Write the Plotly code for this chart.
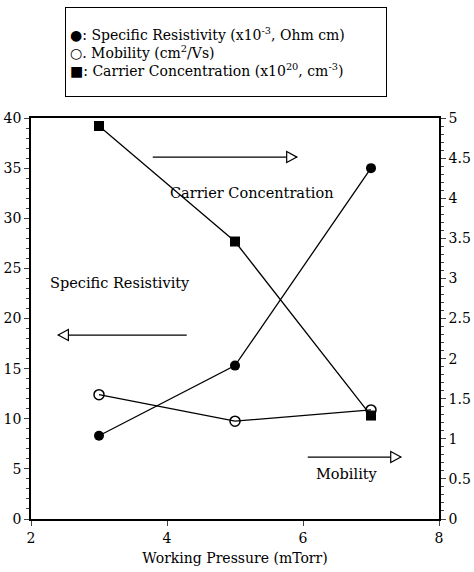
import plotly.graph_objects as go

pressure = [3, 5, 7]
resistivity = [8.3, 15.3, 35.0]          # x10^-3 Ohm cm, left axis
mobility = [1.55, 1.22, 1.36]            # cm^2/Vs, right axis
carrier = [4.9, 3.46, 1.29]              # x10^20 cm^-3, right axis

x_ticks = [2, 4, 6, 8]
left_ticks = [0, 5, 10, 15, 20, 25, 30, 35, 40]
right_ticks = [0, 0.5, 1, 1.5, 2, 2.5, 3, 3.5, 4, 4.5, 5]
right_labels = ["0", "0.5", "1", "1.5", "2", "2.5", "3", "3.5", "4", "4.5", "5"]

FONT = "DejaVu Serif"
fig = go.Figure()
fig.add_trace(go.Scatter(x=pressure, y=resistivity, mode="lines+markers",
                         line=dict(color="black", width=1.3),
                         marker=dict(symbol="circle", size=10, color="black"),
                         showlegend=False))
fig.add_trace(go.Scatter(x=pressure, y=mobility, mode="lines+markers", yaxis="y2",
                         line=dict(color="black", width=1.3),
                         marker=dict(symbol="circle-open", size=10, color="black", line=dict(width=1.5)),
                         showlegend=False))
fig.add_trace(go.Scatter(x=pressure, y=carrier, mode="lines+markers", yaxis="y2",
                         line=dict(color="black", width=1.3),
                         marker=dict(symbol="square", size=10, color="black"),
                         showlegend=False))

shapes = []
def arrow(x0, x1, y):
    shapes.append(dict(type="line", xref="x", yref="y", x0=x0, x1=x1, y0=y, y1=y,
                       line=dict(color="black", width=1.2)))
    d = 0.15 if x1 > x0 else -0.15
    path = f"M {x1} {y} L {x1-d} {y+0.55} L {x1-d} {y-0.55} Z"
    shapes.append(dict(type="path", xref="x", yref="y", path=path,
                       fillcolor="white", line=dict(color="black", width=1.2)))

arrow(3.79, 5.91, 36.1)
arrow(4.29, 2.40, 18.35)
arrow(6.07, 7.44, 6.18)

annotations = [
    dict(x=5.25, y=32.5, xref="x", yref="y", text="Carrier Concentration", showarrow=False,
         font=dict(family=FONT, size=14.5, color="black")),
    dict(x=3.31, y=23.5, xref="x", yref="y", text="Specific Resistivity", showarrow=False,
         font=dict(family=FONT, size=14.5, color="black")),
    dict(x=6.65, y=4.5, xref="x", yref="y", text="Mobility", showarrow=False,
         font=dict(family=FONT, size=14.5, color="black")),
    dict(x=0.0833, y=1.2768, xref="paper", yref="paper", xanchor="left", yanchor="top",
         text="●: Specific Resistivity (x10<sup>-3</sup>, Ohm cm)<br>"
              "○. Mobility (cm<sup>2</sup>/Vs)<br>"
              "■: Carrier Concentration (x10<sup>20</sup>, cm<sup>-3</sup>)",
         align="left", showarrow=False, bordercolor="black", borderwidth=1,
         width=312, height=80, borderpad=4, bgcolor="white",
         font=dict(family=FONT, size=14, color="black")),
]

fig.update_layout(
    width=474, height=572,
    margin=dict(l=31, r=35, t=118, b=53, autoexpand=False),
    paper_bgcolor="white", plot_bgcolor="white",
    font=dict(family=FONT, size=14, color="black"),
    shapes=shapes, annotations=annotations,
    xaxis=dict(range=[2, 8], tickvals=x_ticks, ticks="outside", ticklen=5,
               showline=True, mirror=True, linecolor="black", linewidth=1.5,
               showgrid=False, zeroline=False, tickfont=dict(size=14), automargin=False,
               title=dict(text="Working Pressure (mTorr)", standoff=9,
                          font=dict(family=FONT, size=14))),
    yaxis=dict(range=[0, 40], tickvals=left_ticks, ticks="outside", ticklen=5,
               showline=True, linecolor="black", linewidth=1.5, automargin=False,
               showgrid=False, zeroline=False, tickfont=dict(size=14),
               minor=dict(dtick=1, ticks="outside", ticklen=3, showgrid=False)),
    yaxis2=dict(range=[0, 5], tickvals=right_ticks, ticktext=right_labels,
                overlaying="y", side="right", ticks="outside", ticklen=5,
                showline=True, linecolor="black", linewidth=1.5, automargin=False,
                showgrid=False, zeroline=False, tickfont=dict(size=14),
                minor=dict(dtick=0.1, ticks="outside", ticklen=3, showgrid=False)),
)

fig.write_html("out.html")
